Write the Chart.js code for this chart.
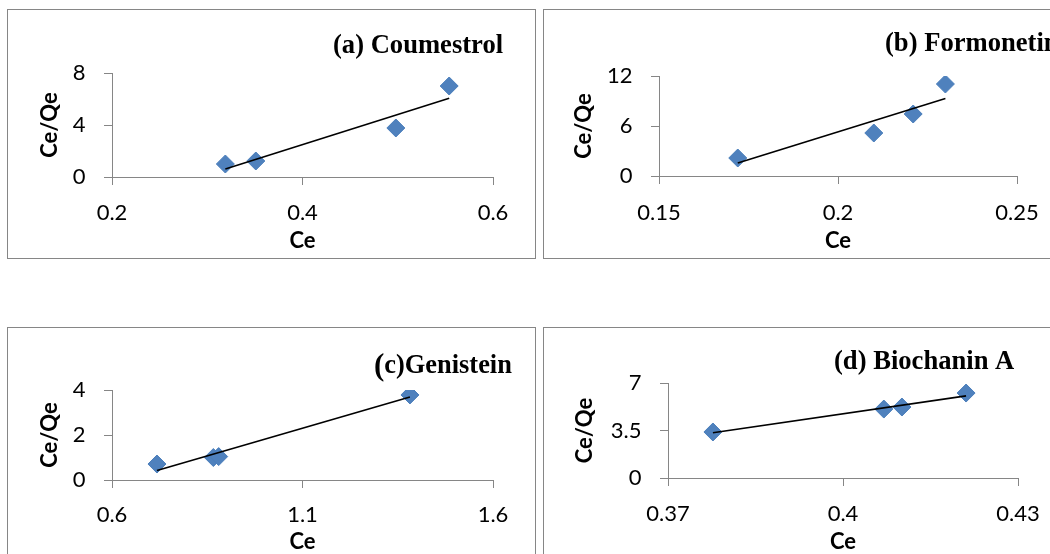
<!DOCTYPE html>
<html>
<head>
<meta charset="utf-8">
<script src="https://cdn.jsdelivr.net/npm/chart.js@4/dist/chart.umd.min.js"></script>
<style>
  html, body { margin: 0; padding: 0; background: #fff; width: 1050px; height: 554px; overflow: hidden; }
  .panel { position: absolute; box-sizing: border-box; border: 1px solid #868686; width: 529px; height: 250px; background: #fff; }
  .panel canvas { position: absolute; left: 0; top: 0; }
</style>
</head>
<body>
<div class="panel" style="left:7px;top:9px"><canvas id="chartA" width="527" height="248"></canvas></div>
<div class="panel" style="left:543px;top:9px"><canvas id="chartB" width="527" height="248"></canvas></div>
<div class="panel" style="left:7px;top:327px"><canvas id="chartC" width="527" height="248"></canvas></div>
<div class="panel" style="left:543px;top:327px"><canvas id="chartD" width="527" height="248"></canvas></div>
<script>
// ---- Langmuir plots: Ce/Qe against Ce for each isoflavone ----

// (a) Coumestrol
const coumestrolCe   = [0.319, 0.351, 0.498, 0.554];
const coumestrolCeQe = [1.0, 1.23, 3.77, 7.0];
const coumestrolFitCe   = [0.319, 0.554];
const coumestrolFitCeQe = [0.62, 6.05];
const coumestrolXTicks = [0.2, 0.4, 0.6];
const coumestrolXLabels = ['0.2', '0.4', '0.6'];
const coumestrolYTicks = [0, 4, 8];
const coumestrolYLabels = ['0', '4', '8'];

// (b) Formonetin
const formonetinCe   = [0.172, 0.21, 0.221, 0.23];
const formonetinCeQe = [2.16, 5.16, 7.44, 11.04];
const formonetinFitCe   = [0.172, 0.23];
const formonetinFitCeQe = [1.55, 9.3];
const formonetinXTicks = [0.15, 0.2, 0.25];
const formonetinXLabels = ['0.15', '0.2', '0.25'];
const formonetinYTicks = [0, 6, 12];
const formonetinYLabels = ['0', '6', '12'];

// (c) Genistein
const genisteinCe   = [0.718, 0.866, 0.88, 1.382];
const genisteinCeQe = [0.71, 1.0, 1.04, 3.78];
const genisteinFitCe   = [0.718, 1.382];
const genisteinFitCeQe = [0.42, 3.69];
const genisteinXTicks = [0.6, 1.1, 1.6];
const genisteinXLabels = ['0.6', '1.1', '1.6'];
const genisteinYTicks = [0, 2, 4];
const genisteinYLabels = ['0', '2', '4'];

// (d) Biochanin A
const biochaninCe   = [0.3777, 0.407, 0.4101, 0.4211];
const biochaninCeQe = [3.39, 5.08, 5.23, 6.26];
const biochaninFitCe   = [0.3777, 0.4211];
const biochaninFitCeQe = [3.34, 6.05];
const biochaninXTicks = [0.37, 0.4, 0.43];
const biochaninXLabels = ['0.37', '0.4', '0.43'];
const biochaninYTicks = [0, 3.5, 7];
const biochaninYLabels = ['0', '3.5', '7'];

// Panel headings (first part may use a larger glyph)
const headingA = ['(a) Coumestrol'];
const headingB = ['(b) Formonetin'];
const headingC = ['(', 'c)Genistein'];
const headingD = ['(d) Biochanin A'];

const xTitle = 'Ce';
const yTitle = 'Ce/Qe';

// ---- drawing helpers ----
const AXIS_GREY = '#868686';
const MARKER_BLUE = '#4F81BD';
const TICK_FONT = { family: 'Lato, "Open Sans", sans-serif', size: 22 };
const TITLE_FONT = { family: 'Lato, "Open Sans", sans-serif', size: 22, weight: 'bold' };

function pairs(xs, ys) {
  return xs.map((x, i) => ({ x: x, y: ys[i] }));
}

function headingPlugin(parts, sizes, left, midY) {
  return {
    id: 'panelHeading',
    afterDraw(chart) {
      const ctx = chart.ctx;
      ctx.save();
      ctx.fillStyle = '#000';
      ctx.textBaseline = 'middle';
      ctx.textAlign = 'left';
      let x = left;
      parts.forEach((p, i) => {
        ctx.font = 'bold ' + sizes[i] + 'px "Liberation Serif", "Times New Roman", serif';
        ctx.fillText(p, x, midY);
        x += ctx.measureText(p).width;
      });
      ctx.restore();
    }
  };
}

function makePanel(canvasId, d, lay) {
  const xTickMap = new Map(d.xTicks.map((v, i) => [v, d.xLabels[i]]));
  const yTickMap = new Map(d.yTicks.map((v, i) => [v, d.yLabels[i]]));
  const W = 527, H = 248;
  return new Chart(document.getElementById(canvasId), {
    type: 'scatter',
    data: {
      datasets: [
        {
          data: pairs(d.fitX, d.fitY),
          showLine: true,
          borderColor: '#000',
          borderWidth: 1.6,
          pointRadius: 0,
          fill: false,
          order: 0
        },
        {
          data: pairs(d.x, d.y),
          pointStyle: 'rectRot',
          pointRadius: 9,
          backgroundColor: MARKER_BLUE,
          borderColor: '#4A7EBB',
          borderWidth: 1,
          showLine: false,
          order: 1
        }
      ]
    },
    options: {
      responsive: false,
      animation: false,
      devicePixelRatio: 1,
      layout: { padding: { top: lay.T, right: W - lay.R, left: 0, bottom: 0 } },
      plugins: { legend: { display: false }, tooltip: { enabled: false }, title: { display: false } },
      scales: {
        x: {
          type: 'linear',
          position: 'bottom',
          min: d.xTicks[0],
          max: d.xTicks[d.xTicks.length - 1],
          afterBuildTicks: (s) => { s.ticks = d.xTicks.map(v => ({ value: v })); },
          afterFit: (s) => { s.height = H - lay.B; },
          ticks: {
            color: '#000',
            font: TICK_FONT,
            padding: lay.xTickPad,
            maxRotation: 0,
            autoSkip: false,
            callback: (v) => xTickMap.get(v)
          },
          grid: { drawOnChartArea: false, drawTicks: true, tickLength: 8, color: AXIS_GREY, lineWidth: 1 },
          border: { display: true, color: AXIS_GREY, width: 1 },
          title: { display: true, text: xTitle, color: '#000', font: TITLE_FONT, padding: { top: 0, bottom: lay.xTitlePad } }
        },
        y: {
          type: 'linear',
          position: 'left',
          min: d.yTicks[0],
          max: d.yTicks[d.yTicks.length - 1],
          afterBuildTicks: (s) => { s.ticks = d.yTicks.map(v => ({ value: v })); },
          afterFit: (s) => { s.width = lay.L; },
          ticks: {
            color: '#000',
            font: TICK_FONT,
            padding: 18.5,
            autoSkip: false,
            callback: (v) => yTickMap.get(v)
          },
          grid: { drawOnChartArea: false, drawTicks: true, tickLength: 8, color: AXIS_GREY, lineWidth: 1 },
          border: { display: true, color: AXIS_GREY, width: 1 },
          title: { display: true, text: yTitle, color: '#000', font: TITLE_FONT, padding: { top: lay.yTitlePad, bottom: 0 } }
        }
      }
    },
    plugins: [headingPlugin(d.heading, d.headingSizes, lay.headX, lay.headY)]
  });
}

makePanel('chartA', {
  x: coumestrolCe, y: coumestrolCeQe, fitX: coumestrolFitCe, fitY: coumestrolFitCeQe,
  xTicks: coumestrolXTicks, xLabels: coumestrolXLabels, yTicks: coumestrolYTicks, yLabels: coumestrolYLabels,
  heading: headingA, headingSizes: [26.6]
}, { L: 104, T: 63, R: 485, B: 167, yTitlePad: 29, xTitlePad: 4, xTickPad: 14.8, headX: 325, headY: 36 });

makePanel('chartB', {
  x: formonetinCe, y: formonetinCeQe, fitX: formonetinFitCe, fitY: formonetinFitCeQe,
  xTicks: formonetinXTicks, xLabels: formonetinXLabels, yTicks: formonetinYTicks, yLabels: formonetinYLabels,
  heading: headingB, headingSizes: [26.6]
}, { L: 115, T: 66, R: 473, B: 166, yTitlePad: 27, xTitlePad: 4, xTickPad: 15.3, headX: 341, headY: 34 });

makePanel('chartC', {
  x: genisteinCe, y: genisteinCeQe, fitX: genisteinFitCe, fitY: genisteinFitCeQe,
  xTicks: genisteinXTicks, xLabels: genisteinXLabels, yTicks: genisteinYTicks, yLabels: genisteinYLabels,
  heading: headingC, headingSizes: [31, 26.4]
}, { L: 104, T: 62, R: 485, B: 152, yTitlePad: 29, xTitlePad: 21.3, xTickPad: 13.8, headX: 366, headY: 38.5 });

makePanel('chartD', {
  x: biochaninCe, y: biochaninCeQe, fitX: biochaninFitCe, fitY: biochaninFitCeQe,
  xTicks: biochaninXTicks, xLabels: biochaninXLabels, yTicks: biochaninYTicks, yLabels: biochaninYLabels,
  heading: headingD, headingSizes: [26.6]
}, { L: 124, T: 55, R: 474, B: 150, yTitlePad: 27.8, xTitlePad: 21.3, xTickPad: 14.3, headX: 290, headY: 34.5 });
</script>
</body>
</html>
